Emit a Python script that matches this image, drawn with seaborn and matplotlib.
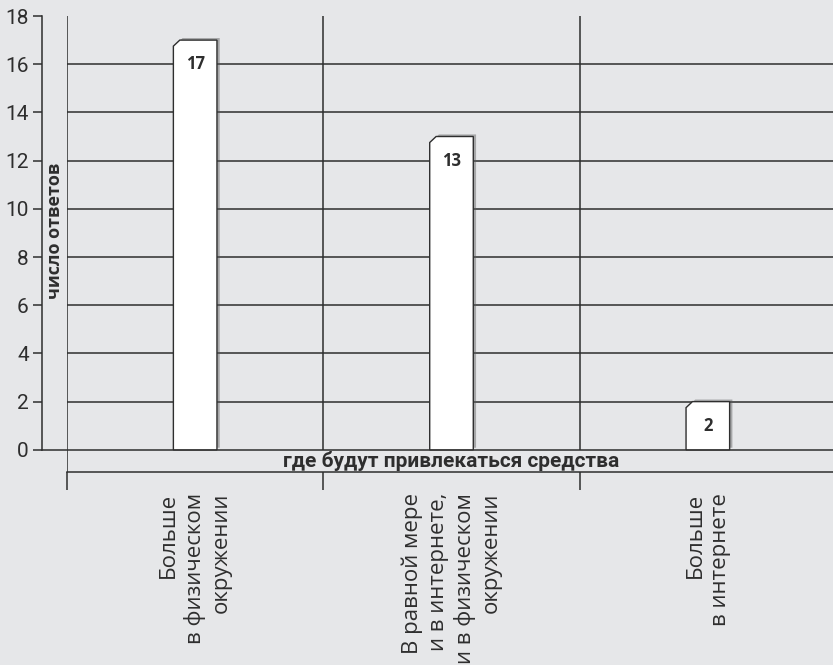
import matplotlib
matplotlib.use("Agg")
import matplotlib.pyplot as plt
import matplotlib.patheffects as pe
from matplotlib.patches import Polygon
import seaborn as sns

# данные с графика
categories = ["Больше\nв физическом\nокружении",
              "В равной мере\nи в интернете,\nи в физическом\nокружении",
              "Больше\nв интернете"]
values = [17, 13, 2]
y_ticks = [0, 2, 4, 6, 8, 10, 12, 14, 16, 18]
y_title = "число ответов"
x_title = "где будут привлекаться средства"

bg = "#e6e7e9"
ink = "#2e2e2e"
wide_font = ["Open Sans", "DejaVu Sans"]
narrow_font = ["Roboto", "DejaVu Sans"]

sns.set_style("white")
plt.rcParams["font.family"] = wide_font

fig = plt.figure(figsize=(8.33, 6.65), dpi=100, facecolor=bg)
ax = fig.add_axes([67 / 833, 1 - 472 / 665, 769 / 833, 456 / 665])
ax.set_facecolor(bg)

sns.barplot(x=list(range(len(values))), y=values, color="white",
            edgecolor=ink, linewidth=1, width=0.17, ax=ax, zorder=3)

ax.set_xlim(-0.5, 2.5)
ax.set_ylim(-0.92, 18)

# скошенный угол и тень у столбиков
for p in list(ax.patches):
    x0, y0 = p.get_x(), p.get_y()
    w, h = p.get_width(), p.get_height()
    dx, dy = 0.025, 0.25
    pts = [(x0, y0), (x0 + w, y0), (x0 + w, y0 + h), (x0 + dx, y0 + h),
           (x0, y0 + h - dy)]
    poly = Polygon(pts, closed=True, facecolor="white", edgecolor=ink,
                   linewidth=1, zorder=3)
    poly.set_path_effects([pe.SimplePatchShadow(offset=(2, 1.5), shadow_rgbFace="0.35", alpha=0.45),
                           pe.Normal()])
    ax.add_patch(poly)
    p.set_visible(False)

# сетка
ax.hlines(y_ticks[1:-1], -0.5, 2.5, color=ink, linewidth=1.1, zorder=1)
ax.vlines([0.5, 1.5], 0, 18, color=ink, linewidth=1.1, zorder=1)
ax.axvline(-0.5, color=ink, linewidth=1.1, zorder=1)
ax.plot([-25 / 769, 1], [0, 0], transform=ax.get_yaxis_transform(),
        color=ink, linewidth=1.1, clip_on=False, zorder=1)

for s in ["top", "right"]:
    ax.spines[s].set_visible(False)
ax.spines["left"].set_position(("outward", 18))
ax.spines["left"].set_bounds(0, 18)
ax.spines["left"].set_color(ink)
ax.spines["bottom"].set_color(ink)
ax.spines["left"].set_linewidth(1.1)
ax.spines["bottom"].set_linewidth(1.1)

ax.set_yticks(y_ticks)
ax.set_yticklabels([str(t) for t in y_ticks], family=narrow_font, fontsize=15, color=ink)
ax.tick_params(axis="y", left=True, direction="out", length=6.5, width=1.1, color=ink, pad=3)

ax.set_xticks([-0.5, 0.5, 1.5])
ax.set_xticklabels([])
ax.set_xticks(range(len(categories)), categories, minor=True)
ax.tick_params(axis="x", which="major", bottom=True, direction="out", length=13, width=1.1, color=ink)
ax.tick_params(axis="x", which="minor", bottom=True, length=0, pad=15, labelsize=16,
               labelcolor=ink, rotation=90)
for lab in ax.get_xticklabels(minor=True):
    lab.set_multialignment("right")
    lab.set_family(wide_font)
    lab.set_linespacing(1.3)

ax.set_xlabel("")
ax.set_ylabel("")

for i, v in enumerate(values):
    ax.text(i, v - 1.0, str(v), ha="center", va="center", fontsize=12,
            fontweight="bold", color=ink, zorder=4)

ax.text(1.0, -0.46, x_title, ha="center", va="center", fontsize=15,
        fontweight="bold", family=narrow_font, color=ink)
ax.text(-12 / 769, 9.1, y_title, transform=ax.get_yaxis_transform(),
        rotation=90, ha="center", va="center", fontsize=13,
        fontweight="bold", color=ink, clip_on=False)

fig.savefig("out.png", dpi=100, facecolor=bg)
